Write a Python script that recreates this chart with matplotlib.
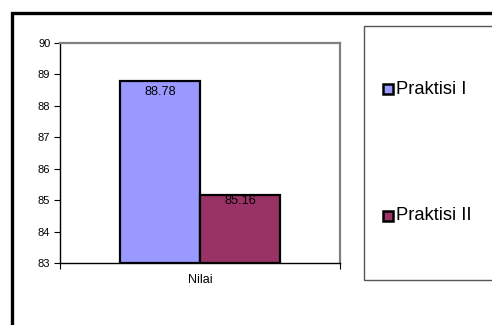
import matplotlib
matplotlib.use("Agg")
import matplotlib.pyplot as plt
from matplotlib.patches import Rectangle

plt.rcParams['font.family'] = ['Liberation Sans', 'DejaVu Sans']

categories = ["Nilai"]
series_names = ["Praktisi I", "Praktisi II"]
series_values = [[88.78], [85.16]]
colors = ["#9999FF", "#993366"]
yticks = [83, 84, 85, 86, 87, 88, 89, 90]

W, H = 492, 325
fig = plt.figure(figsize=(W / 100, H / 100), dpi=100)

def fx(px):
    return px / W

def fy(py):
    return 1 - py / H

# outer frame
fig.patches.append(Rectangle((fx(11.5), fy(335)), fx(500) - fx(11.5), fy(13) - fy(335),
                             transform=fig.transFigure, fill=False, edgecolor="black",
                             linewidth=2.4, zorder=0))
# legend box
fig.patches.append(Rectangle((fx(364), fy(280)), fx(500) - fx(364), fy(26) - fy(280),
                             transform=fig.transFigure, fill=False, edgecolor="#555555",
                             linewidth=1.0, zorder=0))

ax = fig.add_axes([fx(60), fy(263), fx(340) - fx(60), fy(43) - fy(263)])
width = 0.286
n = len(series_names)
label_offsets = [-3.5, 0]
for i, (name, vals, c) in enumerate(zip(series_names, series_values, colors)):
    xs = [k + (i - (n - 1) / 2) * width for k in range(len(categories))]
    ax.bar(xs, [v - 83 for v in vals], bottom=83, width=width, color=c,
           edgecolor="black", linewidth=1.6, zorder=3)
    for x, v in zip(xs, vals):
        ax.annotate(f"{v:.2f}", (x, v), xytext=(0, label_offsets[i]), textcoords="offset points",
                    ha="center", va="top", fontsize=9.2, zorder=4)

ax.set_xlim(-0.5, len(categories) - 0.5)
ax.set_ylim(83, 90)
ax.set_yticks(yticks)
ax.set_yticklabels([str(t) for t in yticks], fontsize=8)
ax.tick_params(axis='y', direction='out', length=4, width=0.8, pad=3)
ax.set_xticks([-0.5, len(categories) - 0.5])
ax.set_xticklabels(["", ""])
ax.tick_params(axis='x', direction='out', length=4, width=0.8)
for k, cat in enumerate(categories):
    ax.text(k, -0.05, cat, transform=ax.get_xaxis_transform(), ha="center", va="top", fontsize=9)
for s in ["top", "right"]:
    ax.spines[s].set_color("#808080")
    ax.spines[s].set_linewidth(1.6)
for s in ["left", "bottom"]:
    ax.spines[s].set_color("black")
    ax.spines[s].set_linewidth(1.0)

# legend entries
leg_y = [89, 216]
for name, c, py in zip(series_names, colors, leg_y):
    fig.patches.append(Rectangle((fx(383), fy(py + 5)), fx(393) - fx(383), fy(py - 5) - fy(py + 5),
                                 transform=fig.transFigure, facecolor=c, edgecolor="black",
                                 linewidth=1.8))
    fig.text(fx(396), fy(py), name, ha="left", va="center", fontsize=13.2)

fig.savefig("out.png", dpi=100)
